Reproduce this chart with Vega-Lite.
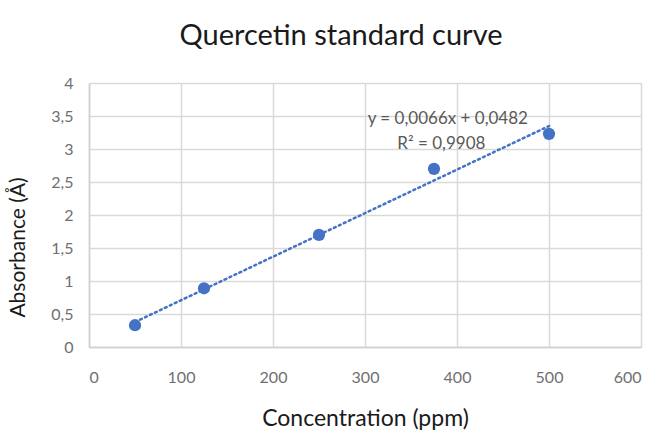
{
  "$schema": "https://vega.github.io/schema/vega-lite/v6.json",
  "autosize": "none",
  "width": 552,
  "height": 264,
  "padding": {"left": 89, "top": 83, "right": 14, "bottom": 85},
  "background": "white",
  "title": {
    "text": "Quercetin standard curve",
    "font": "Lato",
    "fontSize": 29,
    "fontWeight": "normal",
    "color": "#1a1a1a",
    "anchor": "middle",
    "frame": "group",
    "baseline": "alphabetic",
    "dx": -24,
    "offset": 1
  },
  "config": {
    "view": {"stroke": null},
    "axis": {
      "labelFont": "Lato",
      "labelFontSize": 16,
      "labelColor": "#707070",
      "labelOverlap": false,
      "titleFont": "Lato",
      "titleFontWeight": "normal",
      "titleColor": "#1a1a1a",
      "gridColor": "#d9d9d9",
      "gridWidth": 1.5,
      "domainColor": "#d0d0d0",
      "domainWidth": 1.5,
      "ticks": false
    }
  },
  "datasets": {
    "pts": [
      {"conc": 50, "abs": 0.33},
      {"conc": 125, "abs": 0.89},
      {"conc": 250, "abs": 1.7},
      {"conc": 375, "abs": 2.7},
      {"conc": 500, "abs": 3.23}
    ],
    "trend": [
      {"conc": 50, "abs": 0.3782},
      {"conc": 500, "abs": 3.3482}
    ],
    "notes": [
      {"conc": 390, "abs": 3.46, "txt": "y = 0,0066x + 0,0482"},
      {"conc": 383, "abs": 3.07, "txt": "R² = 0,9908"}
    ]
  },
  "encoding": {
    "x": {
      "field": "conc", "type": "quantitative",
      "scale": {"domain": [0, 600], "nice": false},
      "axis": {"values": [0, 100, 200, 300, 400, 500, 600], "title": "Concentration (ppm)", "titleFontSize": 23, "labelPadding": 22, "titlePadding": 22}
    },
    "y": {
      "field": "abs", "type": "quantitative",
      "scale": {"domain": [0, 4], "nice": false},
      "axis": {
        "values": [0, 0.5, 1, 1.5, 2, 2.5, 3, 3.5, 4],
        "labelExpr": "replace(format(datum.value, ''), '.', ',')",
        "labelPadding": 16,
        "title": "Absorbance (Å)",
        "titleFontSize": 21,
        "titleX": -71,
        "titleY": 164,
        "titleAngle": -90,
        "titleAlign": "center",
        "titleBaseline": "middle"
      }
    }
  },
  "layer": [
    {
      "data": {"name": "trend"},
      "mark": {"type": "line", "color": "#4472c4", "strokeWidth": 2.5, "strokeDash": [2, 3.5], "strokeCap": "round"}
    },
    {
      "data": {"name": "pts"},
      "mark": {"type": "point", "filled": true, "opacity": 1, "color": "#4472c4", "size": 150}
    },
    {
      "data": {"name": "notes"},
      "mark": {"type": "text", "font": "Lato", "fontSize": 17, "color": "#595959", "align": "center", "baseline": "middle"},
      "encoding": {
        "text": {"field": "txt"}
      }
    }
  ]
}
